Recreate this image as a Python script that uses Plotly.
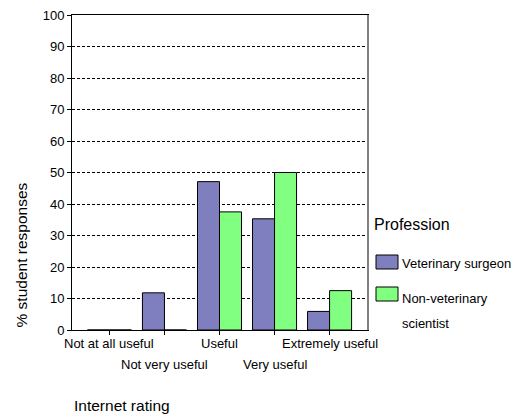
import plotly.graph_objects as go

categories = ["Not at all useful", "Not very useful", "Useful", "Very useful", "Extremely useful"]
vet_surgeon = [0, 11.8, 47.1, 35.3, 5.9]
non_vet_scientist = [0, 0, 37.5, 50.0, 12.5]
series_names = ["Veterinary surgeon", "Non-veterinary scientist"]
y_ticks = [0, 10, 20, 30, 40, 50, 60, 70, 80, 90, 100]

OFF = 8  # default page body margin
W, H = 524 - OFF, 416 - OFF
L, R, T, B = 72, 367, 15, 330  # page pixel coords of plot area
FONT = "Liberation Sans, Arial, sans-serif"
BLUE = "#7f7fbf"
GREEN = "#80ff80"

def px(x):
    return (x - L) / (R - L)

def py(y):
    return (B - y) / (B - T)

fig = go.Figure()
fig.add_trace(go.Bar(x=categories, y=vet_surgeon, name=series_names[0],
                     marker=dict(color=BLUE, line=dict(color="black", width=1))))
fig.add_trace(go.Bar(x=categories, y=non_vet_scientist, name=series_names[1],
                     marker=dict(color=GREEN, line=dict(color="black", width=1))))

fig.update_layout(
    width=W, height=H,
    margin=dict(l=L - OFF, r=W - (R - OFF), t=T - OFF, b=H - (B - OFF), pad=0, autoexpand=False),
    paper_bgcolor="white", plot_bgcolor="white",
    barmode="group", bargap=0.2, bargroupgap=0,
    showlegend=False,
    font=dict(family=FONT, size=13, color="black"),
    xaxis=dict(
        range=[-0.68, 4.68], showticklabels=False, automargin=False,
        ticks="outside", ticklen=4, tickcolor="black",
        showline=True, linecolor="black", linewidth=1, mirror=True,
        showgrid=False, zeroline=False,
    ),
    yaxis=dict(
        range=[0, 100], tickvals=y_ticks, ticklabeloverflow="allow", automargin=False,
        ticks="outside", ticklen=4, tickcolor="black",
        showline=True, linecolor="black", linewidth=1,
        showgrid=True, gridcolor="black", gridwidth=1, griddash="3px,2px",
        zeroline=False, tickfont=dict(size=13),
    ),
    yaxis2=dict(
        overlaying="y", side="right", range=[0, 100], automargin=False,
        showline=True, linecolor="#808080", linewidth=2,
        showgrid=False, zeroline=False, showticklabels=False, ticks="",
    ),
)
# invisible trace to activate the right-hand axis line
fig.add_trace(go.Scatter(x=[categories[0]], y=[0], yaxis="y2", mode="markers",
                         marker=dict(opacity=0), hoverinfo="skip", showlegend=False))

# staggered category labels
for i, c in enumerate(categories):
    fig.add_annotation(x=c, xref="x", y=0, yref="paper", text=c, showarrow=False,
                       yanchor="top", xanchor="center", yshift=-4 if i % 2 == 0 else -25,
                       font=dict(size=13))

def note(x, y, text, size, xanchor="left", angle=0):
    fig.add_annotation(x=px(x), y=py(y), xref="paper", yref="paper", text=text,
                       xanchor=xanchor, yanchor="middle", textangle=angle,
                       showarrow=False, font=dict(size=size))

# axis titles
note(21, 255.5, "% student responses", 15.5, xanchor="center", angle=-90)
note(72, 405, "Internet rating", 15.5)

# legend
note(372, 224, "Profession", 16)
fig.add_shape(type="rect", xref="paper", yref="paper", x0=px(376), x1=px(398), y0=py(269), y1=py(255),
              fillcolor=BLUE, line=dict(color="black", width=1))
fig.add_shape(type="rect", xref="paper", yref="paper", x0=px(376), x1=px(398), y0=py(301), y1=py(287),
              fillcolor=GREEN, line=dict(color="black", width=1))
note(400, 263, series_names[0], 13)
note(400, 298, "Non-veterinary", 13)
note(400, 323, "scientist", 13)

fig.write_html("out.html")
